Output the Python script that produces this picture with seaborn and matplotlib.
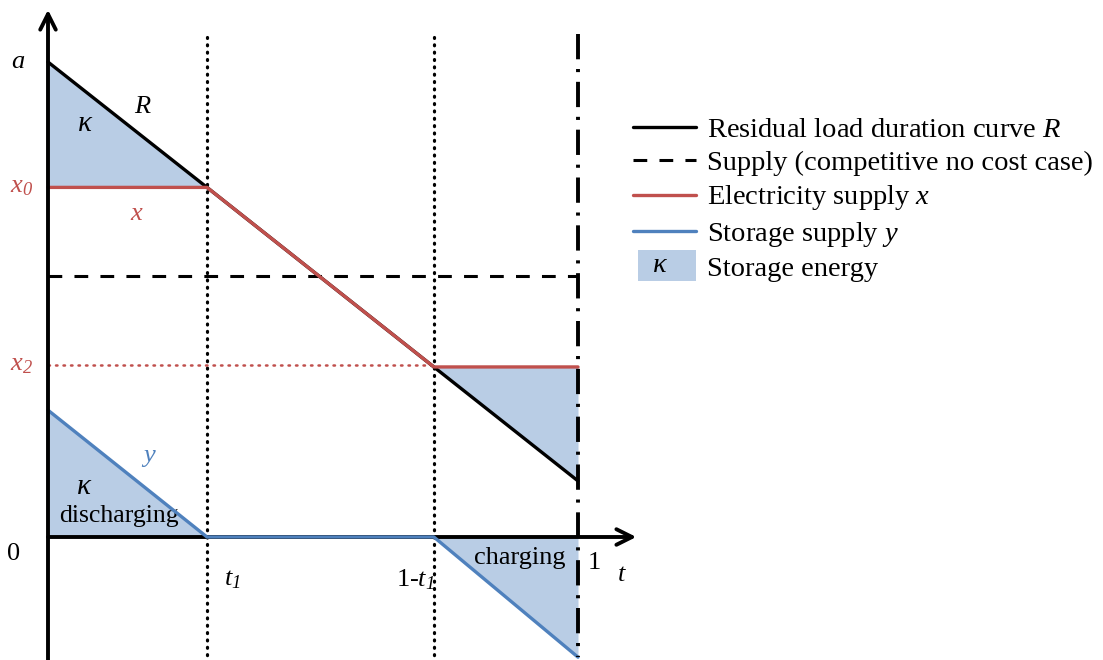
import numpy as np
import pandas as pd
import matplotlib
matplotlib.use("Agg")
import matplotlib.pyplot as plt
import seaborn as sns
from matplotlib.lines import Line2D
from matplotlib.patches import Patch, Rectangle
from matplotlib.legend_handler import HandlerPatch
from matplotlib.text import Text

# break points on the t axis: 0, t1, 1-t1, 1
t_pts = [0.0, 0.30, 0.728, 1.0]
R_vals = [1.0, 0.736, 0.358, 0.118]      # residual load duration curve R
x_vals = [0.736, 0.736, 0.358, 0.358]    # electricity supply x
y_vals = [0.267, 0.0, 0.0, -0.253]       # storage supply y
supply_level = 0.549                     # competitive no cost case
x0_level = 0.736
x2_level = 0.362

legend_labels = ["Residual load duration curve $R$",
                 "Supply (competitive no cost case)",
                 "Electricity supply $x$",
                 "Storage supply $y$",
                 "Storage energy"]

RED = "#c0504d"
BLUE = "#4f81bd"
FILL = "#b9cde5"

sns.set_theme(style="white")
plt.rcParams["font.family"] = ["Liberation Serif", "DejaVu Serif"]
plt.rcParams["text.color"] = "black"
plt.rcParams["mathtext.fontset"] = "custom"
plt.rcParams["mathtext.rm"] = "Liberation Serif"
plt.rcParams["mathtext.it"] = "Liberation Serif:italic"
# italic digits for subscripts (mathtext forces digits upright in \mathit)
plt.rcParams["mathtext.sf"] = "Liberation Serif:italic"

df = pd.DataFrame({"t": t_pts, "R": R_vals, "x": x_vals, "y": y_vals})

fig = plt.figure(figsize=(11.03, 6.60), dpi=100)
ax = fig.add_axes([0, 0, 1, 1])
XL = (-48 / 530, (1103 - 48) / 530)
YL = ((537 - 660) / 475, 537 / 475)
ax.axis("off")

# storage energy areas
ax.fill_between(df.t[:2], df.R[:2], df.x[:2], color=FILL, lw=0, zorder=1)
ax.fill_between(df.t[2:], df.R[2:], df.x[2:], color=FILL, lw=0, zorder=1)
ax.fill_between(df.t[:2], df.y[:2], 0, color=FILL, lw=0, zorder=1)
ax.fill_between(df.t[2:], df.y[2:], 0, color=FILL, lw=0, zorder=1)

# guide lines
ybot = YL[0]
for tv in t_pts[1:3]:
    ax.plot([tv, tv], [1.053, ybot], color="black", lw=2.3,
            ls=(0, (0.3, 2.0)), dash_capstyle="round", zorder=2)
ax.plot([1, 1], [1.06, ybot + 0.006], color="black", lw=2.8,
        ls=(0, (6.5, 2.5, 0.8, 2.5)), zorder=6)
ax.plot([0, 1], [supply_level, supply_level], color="black", lw=2.2,
        ls=(0, (4.5, 4)), zorder=2)
ax.plot([0, t_pts[2]], [x2_level, x2_level], color=RED, lw=1.8,
        ls=(0, (0.6, 2.4)), dash_capstyle="round", zorder=2)

# curves
sns.lineplot(data=df, x="t", y="R", ax=ax, color="black", lw=2.4,
             sort=False, estimator=None, legend=False, zorder=3)
sns.lineplot(data=df, x="t", y="x", ax=ax, color=RED, lw=2.4,
             sort=False, estimator=None, legend=False, zorder=4)
sns.lineplot(data=df, x="t", y="y", ax=ax, color=BLUE, lw=2.4,
             sort=False, estimator=None, legend=False, zorder=5)
ax.set_xlim(*XL)
ax.set_ylim(*YL)
ax.axis("off")

# axes with arrows
arr = dict(arrowstyle="->", lw=2.8, color="black", mutation_scale=28,
           shrinkA=0, shrinkB=0)
ax.annotate("", xy=(0, 1.11), xytext=(0, ybot), arrowprops=arr, zorder=6)
ax.annotate("", xy=(1.11, 0), xytext=(0, 0), arrowprops=arr, zorder=4)

fs = 19
ax.text(-0.057, 1.0, "$a$", fontsize=fs, ha="center", va="center")
ax.text(-0.05, x0_level, r"$x_\mathsf{0}$", fontsize=fs, color=RED, ha="center", va="center")
ax.text(-0.05, x2_level, r"$x_\mathsf{2}$", fontsize=fs, color=RED, ha="center", va="center")
ax.text(-0.065, -0.035, "0", fontsize=fs, ha="center", va="center")
ax.text(t_pts[1] + 0.048, -0.09, r"$t_\mathsf{1}$", fontsize=fs, ha="center", va="center")
ax.text(t_pts[2] - 0.035, -0.09, r"1-$t_\mathsf{1}$", fontsize=fs, ha="center", va="center")
ax.text(1.03, -0.055, "1", fontsize=fs, ha="center", va="center")
ax.text(1.083, -0.08, "$t$", fontsize=fs, ha="center", va="center")
ax.text(0.18, 0.905, "$R$", fontsize=fs, ha="center", va="center")
ax.text(0.07, 0.87, r"$\kappa$", fontsize=21, ha="center", va="center")
ax.text(0.168, 0.68, "$x$", fontsize=fs, color=RED, ha="center", va="center")
ax.text(0.19, 0.166, "$y$", fontsize=fs, color=BLUE, ha="center", va="center")
ax.text(0.068, 0.105, r"$\kappa$", fontsize=21, ha="center", va="center")
ax.text(0.133, 0.044, "discharging", fontsize=18.5, ha="center", va="center")
ax.text(0.89, -0.045, "charging", fontsize=fs, ha="center", va="center")


class KappaPatchHandler(HandlerPatch):
    def create_artists(self, legend, orig_handle, xdescent, ydescent,
                       width, height, fontsize, trans):
        rect = Rectangle((-xdescent + 3, -ydescent - 4), width - 3, height + 8,
                         facecolor=FILL, edgecolor="none", transform=trans)
        txt = Text(-xdescent + width * 0.42, -ydescent + height / 2, r"$\kappa$",
                   fontsize=fontsize, ha="center", va="center", transform=trans)
        return [rect, txt]


handles = [Line2D([], [], color="black", lw=2.4),
           Line2D([], [], color="black", lw=2.2, ls=(0, (4.5, 4))),
           Line2D([], [], color=RED, lw=2.4),
           Line2D([], [], color=BLUE, lw=2.4),
           Patch(facecolor=FILL)]
ax.legend(handles, legend_labels, loc="upper left",
          bbox_to_anchor=(622 / 1103, 1 - 106 / 660), frameon=False,
          fontsize=20.5, handlelength=2.2, handletextpad=0.4,
          labelspacing=0.25, borderaxespad=0,
          handler_map={Patch: KappaPatchHandler()})

fig.savefig("out.png", dpi=100)
